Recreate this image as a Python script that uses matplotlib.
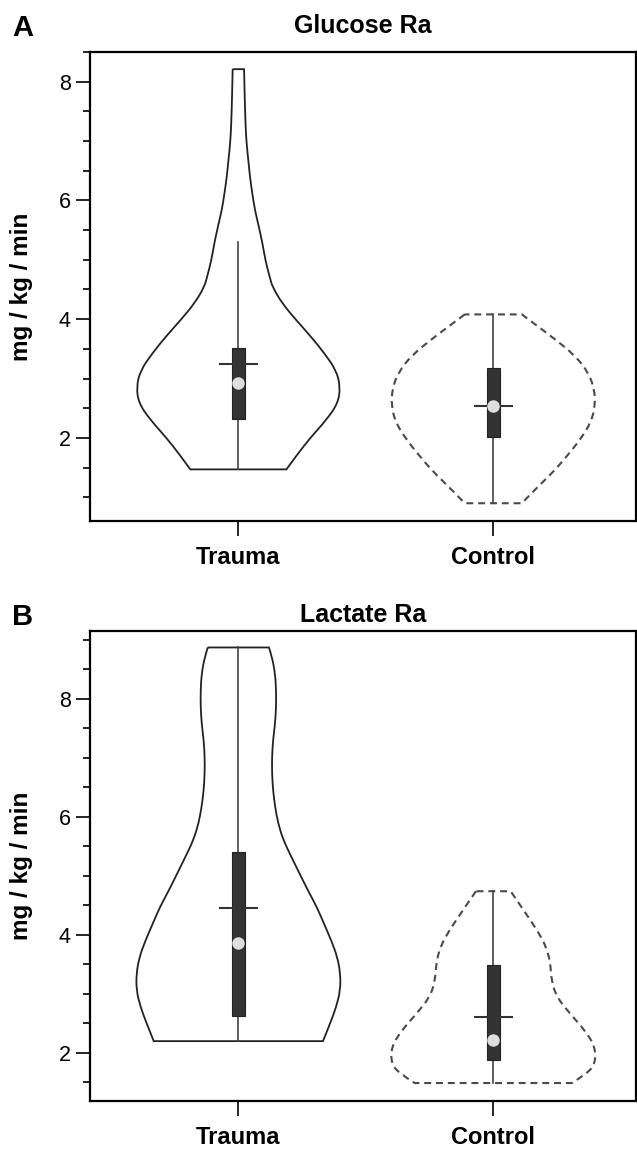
import matplotlib.pyplot as plt
import numpy as np
from matplotlib.path import Path
from matplotlib.patches import PathPatch
from matplotlib.ticker import MultipleLocator, FixedLocator

plt.rcParams['font.family'] = ['Liberation Sans', 'DejaVu Sans']
plt.rcParams['lines.scale_dashes'] = False

# ==========================================
# DATA
# ==========================================
groups = ["Trauma", "Control"]

# Glucose Ra : profil de densité (valeur, largeur relative)
glu_trauma_y = [8.21, 7.79, 7.23, 6.95, 6.67, 6.39, 6.11, 5.83, 5.55, 5.27, 4.99, 4.71,
                4.54, 4.26, 3.98, 3.70, 3.42, 3.14, 2.86, 2.58, 2.30, 2.02, 1.74, 1.47]
glu_trauma_d = [0.056, 0.061, 0.071, 0.081, 0.098, 0.114, 0.137, 0.163, 0.202, 0.237, 0.265, 0.307,
                0.335, 0.432, 0.569, 0.715, 0.846, 0.959, 1.0, 0.976, 0.861, 0.715, 0.585, 0.471]
glu_control_y = [4.08, 3.90, 3.67, 3.39, 3.11, 2.83, 2.55, 2.27, 1.99, 1.71, 1.43, 1.15, 0.90]
glu_control_d = [0.28, 0.42, 0.60, 0.80, 0.93, 0.99, 1.00, 0.96, 0.86, 0.73, 0.59, 0.42, 0.28]

# Lactate Ra
lac_trauma_y = [8.87, 8.71, 8.43, 8.15, 7.86, 7.58, 7.30, 7.02, 6.74, 6.45, 6.17, 5.89, 5.61,
                5.32, 5.04, 4.76, 4.47, 4.19, 3.91, 3.63, 3.35, 3.06, 2.78, 2.50, 2.20]
lac_trauma_d = [0.30, 0.33, 0.36, 0.37, 0.37, 0.36, 0.34, 0.33, 0.33, 0.34, 0.36, 0.39, 0.44,
                0.52, 0.60, 0.68, 0.77, 0.84, 0.91, 0.97, 1.00, 1.00, 0.96, 0.90, 0.83]
lac_control_y = [4.74, 4.59, 4.36, 4.08, 3.80, 3.52, 3.23, 2.95, 2.67, 2.38, 2.10, 1.82, 1.65, 1.49]
lac_control_d = [0.17, 0.23, 0.32, 0.43, 0.52, 0.56, 0.57, 0.62, 0.75, 0.90, 1.00, 1.00, 0.92, 0.77]

# boxplot summaries: whisker low, q1, median, mean, q3, whisker high
glu_stats = {"Trauma": [1.47, 2.32, 2.92, 3.24, 3.52, 5.30],
             "Control": [0.90, 2.01, 2.54, 2.54, 3.18, 4.08]}
lac_stats = {"Trauma": [2.20, 2.63, 3.86, 4.46, 5.40, 8.87],
             "Control": [1.49, 1.88, 2.22, 2.61, 3.49, 4.74]}

# ==========================================
# FIGURE
# ==========================================
fig = plt.figure(figsize=(6.37, 11.52), dpi=100)
axA = fig.add_axes([0.1413, 0.5477, 0.8572, 0.4072])
axB = fig.add_axes([0.1413, 0.0445, 0.8572, 0.4078])

HALF_W = 0.40
BOX_W = 0.0525
MEAN_W = 0.072


def smooth_side(pts, verts, codes):
    # quadratic curve through midpoints, ends kept exact
    n = len(pts)
    for i in range(1, n - 1):
        mid = (pts[i] + pts[i + 1]) / 2 if i < n - 2 else pts[i + 1]
        verts += [tuple(pts[i]), tuple(mid)]
        codes += [Path.CURVE3, Path.CURVE3]


def violin(ax, pos, ys, ds, dashed):
    ys = np.array(ys)
    hw = np.array(ds) * HALF_W
    left = np.column_stack([pos - hw, ys])
    right = np.column_stack([pos + hw, ys])[::-1]
    verts = [tuple(left[0])]
    codes = [Path.MOVETO]
    smooth_side(left, verts, codes)
    verts.append(tuple(right[0]))
    codes.append(Path.LINETO)
    smooth_side(right, verts, codes)
    verts.append(tuple(left[0]))
    codes.append(Path.LINETO)
    if dashed:
        patch = PathPatch(Path(verts, codes), facecolor='none', edgecolor='#4a4a4a',
                          lw=1.5, linestyle=(0, (5, 3.5)), zorder=2)
    else:
        patch = PathPatch(Path(verts, codes), facecolor='none', edgecolor='#222222',
                          lw=1.3, zorder=2)
    ax.add_patch(patch)


def boxes(ax, pos, st):
    lo, q1, med, mean, q3, hi = st
    ax.plot([pos, pos], [lo, hi], color='#444444', lw=1.2, zorder=3)
    ax.add_patch(plt.Rectangle((pos - BOX_W / 2, q1), BOX_W, q3 - q1,
                               facecolor='#333333', edgecolor='#222222', lw=0.8, zorder=4))
    ax.plot([pos - MEAN_W, pos + MEAN_W], [mean, mean], color='#333333', lw=1.5, zorder=5)
    ax.plot(pos, med, 'o', color='#dedede', markersize=9, markeredgewidth=0, zorder=6)


def style(ax, ylim, title, letter, tpad, ly):
    ax.set_xlim(0.418, 2.56)
    ax.set_ylim(*ylim)
    ax.set_xticks([1, 2])
    ax.set_xticklabels(groups, fontsize=17, fontweight='bold')
    ax.yaxis.set_major_locator(FixedLocator([2, 4, 6, 8]))
    ax.yaxis.set_minor_locator(MultipleLocator(0.5))
    ax.tick_params(axis='y', which='major', length=10, width=1.2, labelsize=15.5, pad=4)
    ax.tick_params(axis='y', which='minor', length=5, width=1.2)
    ax.tick_params(axis='x', which='major', length=11, width=1.2, pad=7)
    for s in ax.spines.values():
        s.set_linewidth(1.6)
    ax.set_ylabel("mg / kg / min", fontsize=17.5, fontweight='bold')
    ax.yaxis.set_label_coords(-0.104, 0.5)
    ax.set_title(title, fontsize=18, fontweight='bold', pad=tpad)
    ax.text(-0.143, ly, letter, transform=ax.transAxes, fontsize=21,
            fontweight='bold', va='center', ha='left')


violin(axA, 1, glu_trauma_y, glu_trauma_d, False)
violin(axA, 2, glu_control_y, glu_control_d, True)
boxes(axA, 1, glu_stats["Trauma"])
boxes(axA, 2, glu_stats["Control"])
style(axA, (0.6, 8.5), "Glucose Ra", "A", 14, 1.051)

violin(axB, 1, lac_trauma_y, lac_trauma_d, False)
violin(axB, 2, lac_control_y, lac_control_d, True)
boxes(axB, 1, lac_stats["Trauma"])
boxes(axB, 2, lac_stats["Control"])
style(axB, (1.19, 9.15), "Lactate Ra", "B", 6.5, 1.03)

plt.savefig('out.png', dpi=100)
